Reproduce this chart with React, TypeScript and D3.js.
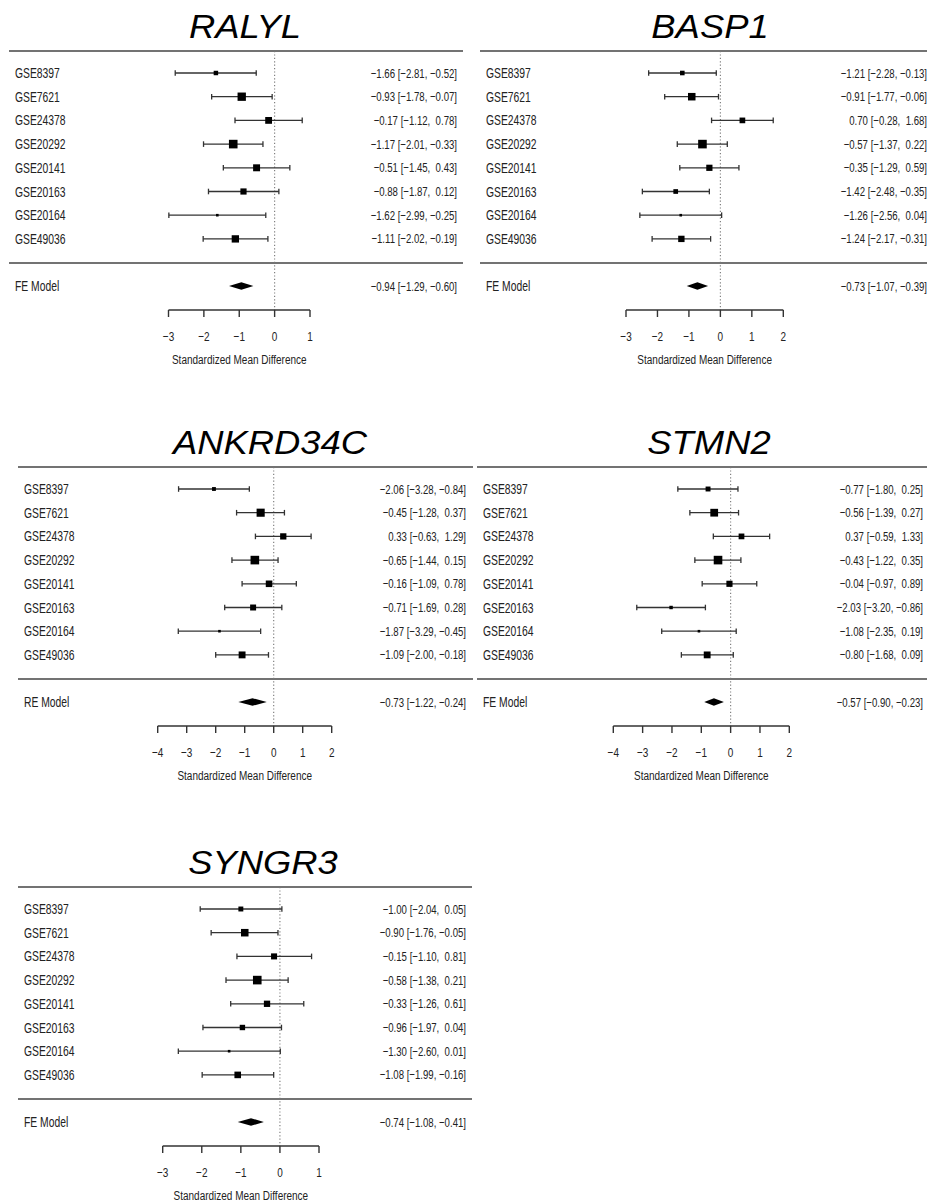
import { useEffect, useRef } from "react";
import { select, scaleLinear, min, max } from "d3";

// data
const studies = ["GSE8397", "GSE7621", "GSE24378", "GSE20292", "GSE20141", "GSE20163", "GSE20164", "GSE49036"];
const genes = ["RALYL", "BASP1", "ANKRD34C", "STMN2", "SYNGR3"];

const ralylEst = [-1.66, -0.93, -0.17, -1.17, -0.51, -0.88, -1.62, -1.11];
const ralylLower = [-2.81, -1.78, -1.12, -2.01, -1.45, -1.87, -2.99, -2.02];
const ralylUpper = [-0.52, -0.07, 0.78, -0.33, 0.43, 0.12, -0.25, -0.19];

const basp1Est = [-1.21, -0.91, 0.7, -0.57, -0.35, -1.42, -1.26, -1.24];
const basp1Lower = [-2.28, -1.77, -0.28, -1.37, -1.29, -2.48, -2.56, -2.17];
const basp1Upper = [-0.13, -0.06, 1.68, 0.22, 0.59, -0.35, 0.04, -0.31];

const ankrdEst = [-2.06, -0.45, 0.33, -0.65, -0.16, -0.71, -1.87, -1.09];
const ankrdLower = [-3.28, -1.28, -0.63, -1.44, -1.09, -1.69, -3.29, -2.0];
const ankrdUpper = [-0.84, 0.37, 1.29, 0.15, 0.78, 0.28, -0.45, -0.18];

const stmn2Est = [-0.77, -0.56, 0.37, -0.43, -0.04, -2.03, -1.08, -0.8];
const stmn2Lower = [-1.8, -1.39, -0.59, -1.22, -0.97, -3.2, -2.35, -1.68];
const stmn2Upper = [0.25, 0.27, 1.33, 0.35, 0.89, -0.86, 0.19, 0.09];

const syngr3Est = [-1.0, -0.9, -0.15, -0.58, -0.33, -0.96, -1.3, -1.08];
const syngr3Lower = [-2.04, -1.76, -1.1, -1.38, -1.26, -1.97, -2.6, -1.99];
const syngr3Upper = [0.05, -0.05, 0.81, 0.21, 0.61, 0.04, 0.01, -0.16];

const modelLabels = ["FE Model", "FE Model", "RE Model", "FE Model", "FE Model"];
const modelEst = [-0.94, -0.73, -0.73, -0.57, -0.74];
const modelLower = [-1.29, -1.07, -1.22, -0.9, -1.08];
const modelUpper = [-0.6, -0.39, -0.24, -0.23, -0.41];

const axisTicks = [
    [-3, -2, -1, 0, 1],
    [-3, -2, -1, 0, 1, 2],
    [-4, -3, -2, -1, 0, 1, 2],
    [-4, -3, -2, -1, 0, 1, 2],
    [-3, -2, -1, 0, 1],
];

const estimates = [ralylEst, basp1Est, ankrdEst, stmn2Est, syngr3Est];
const lowers = [ralylLower, basp1Lower, ankrdLower, stmn2Lower, syngr3Lower];
const uppers = [ralylUpper, basp1Upper, ankrdUpper, stmn2Upper, syngr3Upper];

// panel placement on the page
const panels = [
    { top: 51, x0: 9, x1: 463, labelX: 15, rightX: 457, titleX: 245, left: 168.5, right: 310 },
    { top: 51, x0: 480, x1: 927, labelX: 486, rightX: 927, titleX: 710, left: 626, right: 783.3 },
    { top: 467, x0: 18, x1: 473, labelX: 24, rightX: 466, titleX: 270, left: 157.7, right: 331.7 },
    { top: 467, x0: 477, x1: 927, labelX: 483, rightX: 923, titleX: 709, left: 613.3, right: 789.3 },
    { top: 887, x0: 18, x1: 472, labelX: 24, rightX: 466, titleX: 263, left: 162.7, right: 319 },
];

const FONT = "'Liberation Sans', Arial, Helvetica, sans-serif";
const SQUEEZE = 0.74; // small text in the figure is horizontally compressed

const fmt = (v: number) => {
    const s = Math.abs(v).toFixed(2);
    return (v < 0 ? "\u2212" : " ") + s;
};

function App() {
    const svgRef = useRef<SVGSVGElement>(null);

    useEffect(() => {
        const svg = select(svgRef.current);
        svg.selectAll("*").remove();

        const smallText = (
            g: any,
            x: number,
            y: number,
            txt: string,
            anchor: string,
            size = 13
        ) =>
            g
                .append("text")
                .attr("transform", `translate(${x},${y}) scale(${SQUEEZE},1)`)
                .attr("text-anchor", anchor)
                .attr("font-family", FONT)
                .attr("font-size", size)
                .attr("fill", "#222")
                .style("white-space", "pre")
                .text(txt);

        genes.forEach((gene, p) => {
            const P = panels[p];
            const est = estimates[p];
            const lo = lowers[p];
            const hi = uppers[p];
            const ticks = axisTicks[p];
            const g = svg.append("g").attr("class", "panel-" + gene);

            const x = scaleLinear()
                .domain([ticks[0], ticks[ticks.length - 1]])
                .range([P.left, P.right]);

            const rowY = (i: number) => P.top + 22 + i * 23.7;
            const sepY = P.top + 212;
            const modelY = sepY + 23;
            const axisY = modelY + 24;

            // title
            g.append("text")
                .attr("transform", `translate(${P.titleX},${P.top - 13}) scale(1.07,1)`)
                .attr("text-anchor", "middle")
                .attr("font-family", FONT)
                .attr("font-style", "italic")
                .attr("font-size", 34)
                .attr("fill", "#000")
                .text(gene);

            // rules
            [P.top, sepY].forEach((yy) => {
                g.append("line")
                    .attr("x1", P.x0)
                    .attr("x2", P.x1)
                    .attr("y1", yy)
                    .attr("y2", yy)
                    .attr("stroke", "#444")
                    .attr("stroke-width", 1.6);
            });

            // reference line at zero
            g.append("line")
                .attr("x1", x(0))
                .attr("x2", x(0))
                .attr("y1", P.top)
                .attr("y2", axisY)
                .attr("stroke", "#777")
                .attr("stroke-width", 1.1)
                .attr("stroke-dasharray", "1.2,2.2");

            // square size from inverse standard error
            const w = est.map((_, i) => 3.92 / (hi[i] - lo[i]));
            const wMin = min(w) as number;
            const wMax = max(w) as number;
            const side = scaleLinear().domain([wMin, wMax]).range([2.6, 8.6]);

            studies.forEach((s, i) => {
                const y = rowY(i);
                smallText(g, P.labelX, y + 5, s, "start", 14);
                smallText(
                    g,
                    P.rightX,
                    y + 4.5,
                    `${fmt(est[i])} [${fmt(lo[i])}, ${fmt(hi[i])}]`,
                    "end"
                );

                g.append("line")
                    .attr("x1", x(lo[i]))
                    .attr("x2", x(hi[i]))
                    .attr("y1", y)
                    .attr("y2", y)
                    .attr("stroke", "#333")
                    .attr("stroke-width", 1.3);
                [lo[i], hi[i]].forEach((v) => {
                    g.append("line")
                        .attr("x1", x(v))
                        .attr("x2", x(v))
                        .attr("y1", y - 2.8)
                        .attr("y2", y + 2.8)
                        .attr("stroke", "#333")
                        .attr("stroke-width", 1.3);
                });
                const sz = side(w[i]);
                g.append("rect")
                    .attr("x", x(est[i]) - sz / 2)
                    .attr("y", y - sz / 2)
                    .attr("width", sz)
                    .attr("height", sz)
                    .attr("fill", "#000");
            });

            // summary
            smallText(g, P.labelX, modelY + 5, modelLabels[p], "start", 14);
            smallText(
                g,
                P.rightX,
                modelY + 4.5,
                `${fmt(modelEst[p])} [${fmt(modelLower[p])}, ${fmt(modelUpper[p])}]`,
                "end"
            );
            g.append("path")
                .attr(
                    "d",
                    `M${x(modelLower[p])},${modelY} L${x(modelEst[p])},${modelY - 3.8} L${x(
                        modelUpper[p]
                    )},${modelY} L${x(modelEst[p])},${modelY + 3.8} Z`
                )
                .attr("fill", "#000");

            // axis
            g.append("line")
                .attr("x1", x(ticks[0]))
                .attr("x2", x(ticks[ticks.length - 1]))
                .attr("y1", axisY)
                .attr("y2", axisY)
                .attr("stroke", "#333")
                .attr("stroke-width", 1.4);
            ticks.forEach((t) => {
                g.append("line")
                    .attr("x1", x(t))
                    .attr("x2", x(t))
                    .attr("y1", axisY)
                    .attr("y2", axisY + 7)
                    .attr("stroke", "#333")
                    .attr("stroke-width", 1.4);
                smallText(g, x(t), axisY + 31, t < 0 ? "\u2212" + Math.abs(t) : String(t), "middle", 13.5);
            });
            smallText(
                g,
                (x(ticks[0]) + x(ticks[ticks.length - 1])) / 2,
                axisY + 54,
                "Standardized Mean Difference",
                "middle",
                13.5
            );
        });
    }, []);

    return (
        <svg
            ref={svgRef}
            width={927}
            height={1202}
            style={{ position: "absolute", left: 0, top: 0, background: "#fff" }}
        ></svg>
    );
}

export default App;
